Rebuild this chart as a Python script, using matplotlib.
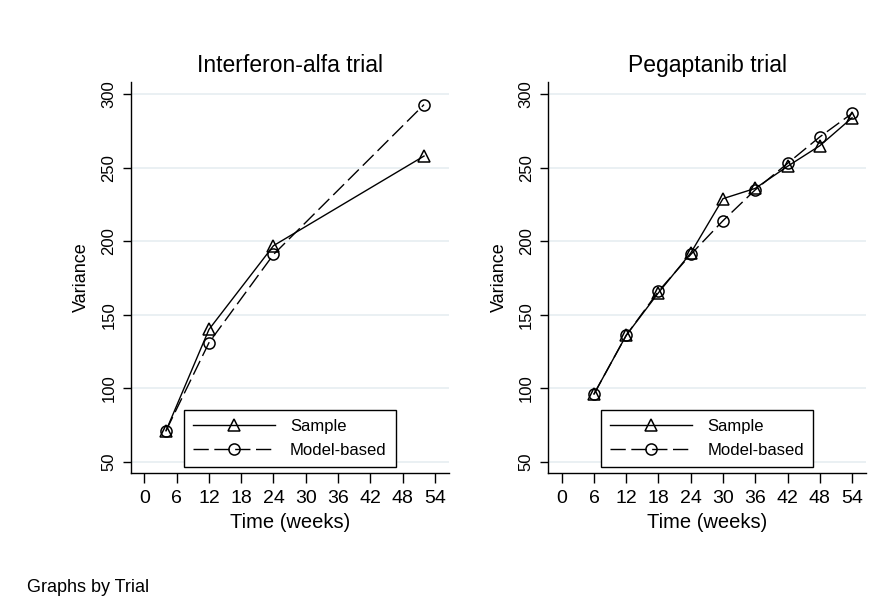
import matplotlib
matplotlib.use("Agg")
import matplotlib.pyplot as plt

# ============================================================
# 1. DATA
# ============================================================
panel_titles = ["Interferon-alfa trial", "Pegaptanib trial"]

weeks_ifn = [4, 12, 24, 52]
sample_ifn = [71, 140, 197, 258]
model_ifn = [71, 131, 191, 293]

weeks_peg = [6, 12, 18, 24, 30, 36, 42, 48, 54]
sample_peg = [96, 136, 165, 192, 229, 236, 251, 265, 284]
model_peg = [96, 136, 166, 191, 214, 235, 253, 271, 287]

x_ticks = list(range(0, 55, 6))
y_ticks = [50, 100, 150, 200, 250, 300]

# ============================================================
# 2. STYLE
# ============================================================
plt.rcParams["font.family"] = ["Liberation Sans", "DejaVu Sans"]
GRID = "#e6eef1"
DASH = (0, (11, 4))

fig = plt.figure(figsize=(8.95, 6.06), dpi=100)
ax_l = fig.add_axes([0.1464, 0.2190, 0.355, 0.6462])
ax_r = fig.add_axes([0.6126, 0.2190, 0.355, 0.6462])

panels = [
    (ax_l, panel_titles[0], weeks_ifn, sample_ifn, model_ifn),
    (ax_r, panel_titles[1], weeks_peg, sample_peg, model_peg),
]

# ============================================================
# 3. PLOT
# ============================================================
for ax, title, wk, samp, mod in panels:
    ax.plot(wk, samp, color="black", lw=1.0, marker="^", ms=8,
            mfc="none", mec="black", mew=1.1, label="Sample", zorder=3)
    ax.plot(wk, mod, color="black", lw=1.0, ls=DASH, marker="o", ms=8,
            mfc="none", mec="black", mew=1.1, label="Model-based", zorder=3)

    ax.set_xlim(-2.5, 56.6)
    ax.set_ylim(42.1, 308.6)
    ax.set_xticks(x_ticks)
    ax.set_yticks(y_ticks)
    ax.set_xticklabels([str(t) for t in x_ticks], fontsize=14)
    ax.set_yticklabels([str(t) for t in y_ticks], fontsize=12,
                       rotation=90, va="center")
    ax.tick_params(axis="x", length=7, width=1, pad=5, colors="black")
    ax.tick_params(axis="y", length=5.5, width=1, pad=5, colors="black")

    ax.grid(axis="y", color=GRID, lw=1.2)
    ax.set_axisbelow(True)
    for s in ["top", "right"]:
        ax.spines[s].set_visible(False)
    for s in ["left", "bottom"]:
        ax.spines[s].set_linewidth(1)
        ax.spines[s].set_color("black")

    ax.set_title(title, fontsize=16.5, pad=7)
    ax.set_xlabel("Time (weeks)", fontsize=14.5, labelpad=4)
    ax.set_ylabel("Variance", fontsize=13, labelpad=8)

    leg = ax.legend(loc="lower center", bbox_to_anchor=(0.5, 0.0),
                    fontsize=12, handlelength=4.9, handletextpad=0.9,
                    borderpad=0.55, labelspacing=0.55, borderaxespad=0.36,
                    frameon=True, fancybox=False, framealpha=1,
                    edgecolor="black", numpoints=1)
    leg.get_frame().set_linewidth(1)

fig.text(27 / 895, 1 - 591.7 / 606, "Graphs by Trial", fontsize=13,
         va="baseline", ha="left")

fig.savefig("out.png", dpi=100, facecolor="white")
